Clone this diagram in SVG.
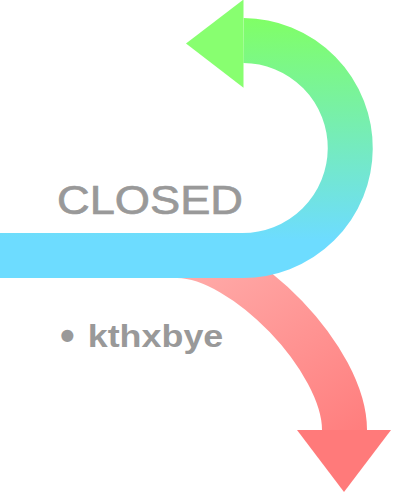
<svg xmlns="http://www.w3.org/2000/svg" width="408" height="493" viewBox="0 0 408 493">
  <defs>
    <linearGradient id="gGreen" gradientUnits="userSpaceOnUse" x1="0" y1="18" x2="0" y2="240">
      <stop offset="0" stop-color="#80ff66"/>
      <stop offset="1" stop-color="#6ddcff"/>
    </linearGradient>
    <linearGradient id="gRed" gradientUnits="userSpaceOnUse" x1="190" y1="260" x2="344" y2="480">
      <stop offset="0" stop-color="#ffacaa"/>
      <stop offset="1" stop-color="#ff7878"/>
    </linearGradient>
    <style>
      .shaft { fill: none; stroke-width: 45; stroke-linecap: butt; }
      .label { fill: #999999; font-family: "Liberation Sans", Arial, sans-serif; }
    </style>
  </defs>
  <rect width="408" height="493" fill="#ffffff"/>
  <g id="connectors">
    <g id="arrow-kthxbye">
      <path class="shaft" stroke="url(#gRed)" d="M150,255.5 H177 C244,255.5 344.5,360 344.5,430"/>
      <polygon fill="#ff7a7a" points="297,430 391,430 344,492"/>
    </g>
    <g id="arrow-closed">
      <path class="shaft" stroke="url(#gGreen)" d="M0,255.5 H242 A107.5,107.5 0 0 0 243.5,40.5"/>
      <polygon fill="#88ff70" points="243.5,-0.5 243.5,87.7 186,43.5"/>
    </g>
  </g>
  <g id="closed">
    <text class="label" x="57" y="213.7" font-size="41" stroke="#999999" stroke-width="0.7" textLength="186" lengthAdjust="spacingAndGlyphs">CLOSED</text>
  </g>
  <g id="kthxbye">
    <text class="label" font-weight="bold" font-size="32"><tspan x="60" y="350" font-size="42">•</tspan><tspan x="87.7" y="346.7" textLength="135.6" lengthAdjust="spacingAndGlyphs">kthxbye</tspan></text>
  </g>
</svg>
